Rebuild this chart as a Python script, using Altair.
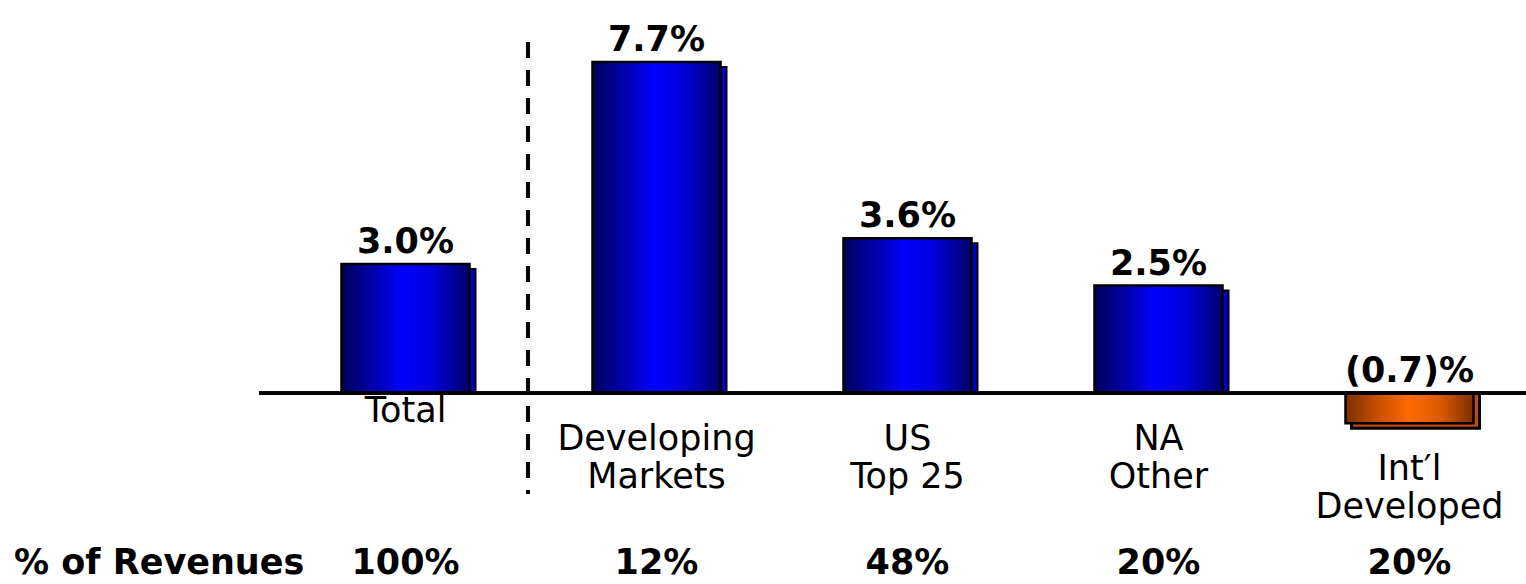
import altair as alt
import pandas as pd

categories = ["Total", "Developing Markets", "US Top 25", "NA Other", "Int'l Developed"]
label_lines = ["Total", "Developing\nMarkets", "US\nTop 25", "NA\nOther", "Int\u2032l\nDeveloped"]
growth = [3.0, 7.7, 3.6, 2.5, -0.7]
growth_labels = ["3.0%", "7.7%", "3.6%", "2.5%", "(0.7)%"]
revenue_share = ["100%", "12%", "48%", "20%", "20%"]
row_title = ["% of Revenues"]

df = pd.DataFrame({
    "cat": categories,
    "line": label_lines,
    "value": growth,
    "vlabel": growth_labels,
    "rev": revenue_share,
})

xs = alt.Scale(domain=categories, range=[280, 1535], paddingInner=0.49, paddingOuter=0.245)
ys = alt.Scale(domain=[-4.44, 9.14], nice=False, zero=False)

X = alt.X("cat:N", scale=xs, axis=None, sort=categories)
Y = alt.Y("value:Q", scale=ys, axis=None)

blue_grad = {
    "gradient": "linear", "x1": 0, "x2": 1, "y1": 0, "y2": 0,
    "stops": [
        {"offset": 0, "color": "#000058"},
        {"offset": 0.28, "color": "#0000B8"},
        {"offset": 0.48, "color": "#0000FF"},
        {"offset": 0.72, "color": "#0000D8"},
        {"offset": 1, "color": "#000068"},
    ],
}
orange_grad = {
    "gradient": "linear", "x1": 0, "x2": 1, "y1": 0, "y2": 0,
    "stops": [
        {"offset": 0, "color": "#7A2E00"},
        {"offset": 0.25, "color": "#C85000"},
        {"offset": 0.5, "color": "#FF6A00"},
        {"offset": 0.75, "color": "#D85800"},
        {"offset": 1, "color": "#7A3000"},
    ],
}

base = alt.Chart(df)

pos_shadow = base.transform_filter("datum.value >= 0").mark_bar(
    fill="#0000CC", stroke="black", strokeWidth=2, xOffset=6, yOffset=5
).encode(x=X, y=Y, y2=alt.datum(0))

neg_shadow = base.transform_filter("datum.value < 0").mark_bar(
    fill="#C04A00", stroke="black", strokeWidth=3, xOffset=6, yOffset=5
).encode(x=X, y=Y, y2=alt.datum(0))

pos_bars = base.transform_filter("datum.value >= 0").mark_bar(
    fill=blue_grad, stroke="black", strokeWidth=2.5
).encode(x=X, y=Y, y2=alt.datum(0))

neg_bars = base.transform_filter("datum.value < 0").mark_bar(
    fill=orange_grad, stroke="black", strokeWidth=2.5
).encode(x=X, y=Y, y2=alt.datum(0))

baseline = base.transform_calculate(zero="0").mark_rule(color="black", strokeWidth=3).encode(
    y=alt.Y("zero:Q", scale=ys, axis=None), x=alt.value(259), x2=alt.value(1526)
)

divider = base.mark_rule(color="black", strokeWidth=3, strokeDash=[16, 12]).encode(
    x=alt.value(528), y=alt.value(42), y2=alt.value(494)
)

value_text = base.transform_calculate(ly="max(datum.value, 0)").mark_text(
    font="DejaVu Sans", fontWeight="bold", fontSize=35, baseline="alphabetic", dy=-11, color="black"
).encode(x=X, y=alt.Y("ly:Q", scale=ys, axis=None), text="vlabel:N")

cat_font = dict(font="DejaVu Sans", fontSize=35, baseline="alphabetic", lineBreak="\n",
                lineHeight=38, color="black", align="center")

cat_total = base.transform_filter("datum.cat == 'Total'").mark_text(**cat_font).encode(
    x=X, y=alt.value(422), text="line:N")
cat_mid = base.transform_filter(
    "datum.cat != 'Total' && datum.value >= 0").mark_text(**cat_font).encode(
    x=X, y=alt.value(450), text="line:N")
cat_intl = base.transform_filter("datum.value < 0").mark_text(**cat_font).encode(
    x=X, y=alt.value(480), text="line:N")

rev_text = base.mark_text(
    font="DejaVu Sans", fontWeight="bold", fontSize=35, baseline="alphabetic", color="black"
).encode(x=X, y=alt.value(574), text="rev:N")

row_df = pd.DataFrame({"t": row_title})
row_text = alt.Chart(row_df).mark_text(
    font="DejaVu Sans", fontWeight="bold", fontSize=35, baseline="alphabetic", align="left", color="black"
).encode(x=alt.value(14), y=alt.value(574), text="t:N")

chart = alt.layer(
    pos_shadow, neg_shadow, pos_bars, neg_bars, baseline, divider,
    value_text, cat_total, cat_mid, cat_intl, rev_text, row_text
).properties(
    width=1526, height=584,
    autosize=alt.AutoSizeParams(type="none"),
    padding=0,
    background="white",
).configure_view(stroke=None)

chart.save("out.html", embed_options={"renderer": "svg", "actions": False})
